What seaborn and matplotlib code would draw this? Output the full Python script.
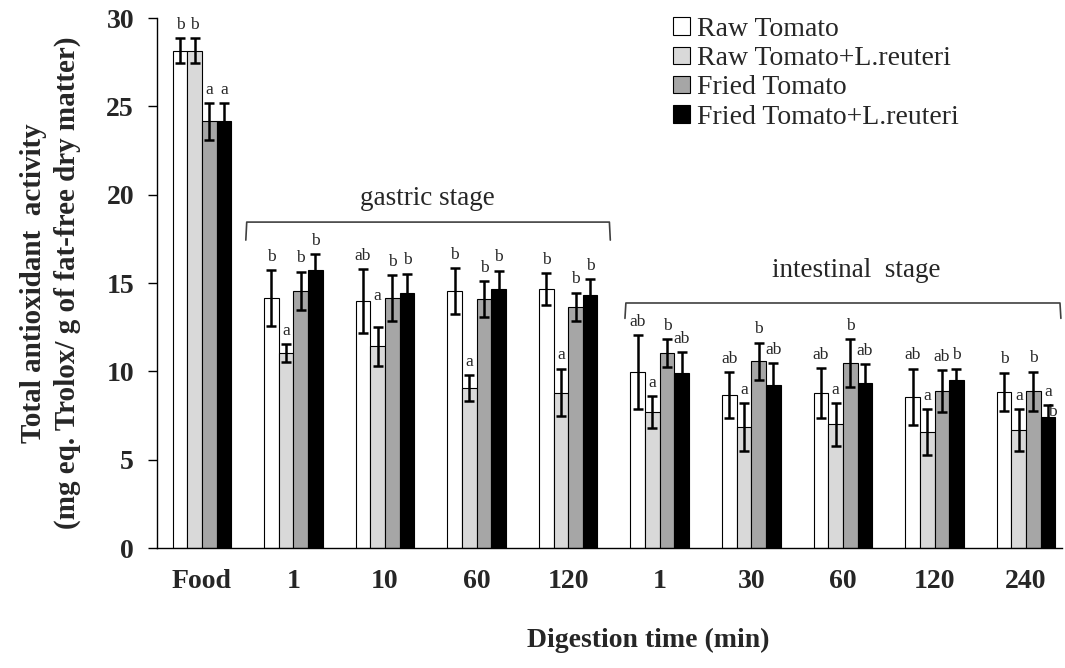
import pandas as pd
import seaborn as sns
import matplotlib.pyplot as plt

# digestion steps (unique keys, because 1/60/120 appear in both stages)
steps = ["Food", "G1", "G10", "G60", "G120", "I1", "I30", "I60", "I120", "I240"]
tick_labels = ["Food", "1", "10", "60", "120", "1", "30", "60", "120", "240"]
samples = ["Raw Tomato", "Raw Tomato+L.reuteri", "Fried Tomato", "Fried Tomato+L.reuteri"]
colors = ["#ffffff", "#d9d9d9", "#a6a6a6", "#000000"]

raw_mean = [28.15, 14.15, 13.98, 14.55, 14.65, 9.96, 8.66, 8.77, 8.55, 8.83]
raw_sd = [0.7, 1.6, 1.8, 1.3, 0.9, 2.1, 1.3, 1.4, 1.6, 1.1]
raw_lr_mean = [28.15, 11.03, 11.43, 9.05, 8.8, 7.7, 6.85, 7.0, 6.56, 6.68]
raw_lr_sd = [0.7, 0.5, 1.1, 0.75, 1.35, 0.9, 1.35, 1.2, 1.3, 1.2]
fried_mean = [24.15, 14.55, 14.15, 14.1, 13.65, 11.03, 10.58, 10.47, 8.88, 8.88]
fried_sd = [1.05, 1.1, 1.3, 1.0, 0.8, 0.8, 1.05, 1.35, 1.2, 1.1]
fried_lr_mean = [24.15, 15.73, 14.43, 14.65, 14.3, 9.9, 9.22, 9.33, 9.5, 7.4]
fried_lr_sd = [1.05, 0.9, 1.1, 1.05, 0.9, 1.2, 1.25, 1.1, 0.65, 0.7]

raw_letters = ["b", "b", "ab", "b", "b", "ab", "ab", "ab", "ab", "b"]
raw_lr_letters = ["b", "a", "a", "a", "a", "a", "a", "a", "a", "a"]
fried_letters = ["a", "b", "b", "b", "b", "b", "b", "b", "ab", "b"]
fried_lr_letters = ["a", "b", "b", "b", "b", "ab", "ab", "ab", "b", "a"]

means = [raw_mean, raw_lr_mean, fried_mean, fried_lr_mean]
sds = [raw_sd, raw_lr_sd, fried_sd, fried_lr_sd]
letters = [raw_letters, raw_lr_letters, fried_letters, fried_lr_letters]

rows = []
for s, m in zip(samples, means):
    for st, v in zip(steps, m):
        rows.append({"step": st, "sample": s, "value": v})
df = pd.DataFrame(rows)

sns.set_theme(style="white")
plt.rcParams['font.family'] = ['Liberation Serif', 'DejaVu Serif']

fig, ax = plt.subplots(figsize=(10.65, 6.68), dpi=100)
fig.subplots_adjust(left=0.1474, right=0.997, bottom=0.1796, top=0.973)

sns.barplot(data=df, x="step", y="value", hue="sample", order=steps,
            hue_order=samples, palette=colors, saturation=1, width=0.64,
            gap=0, edgecolor="black", linewidth=0.8, errorbar=None, ax=ax)

bar_conts = list(ax.containers)
for k, cont in enumerate(bar_conts):
    xs = [b.get_x() + b.get_width() / 2 for b in cont]
    ax.errorbar(xs, means[k], yerr=sds[k], fmt="none", ecolor="black",
                elinewidth=1.8, capsize=3.5, capthick=1.8, zorder=5)
    for i, x in enumerate(xs):
        y = means[k][i] + sds[k][i] + 0.75
        if k == 1 and steps[i] == "G10":
            y += 1.0
        ax.text(x, y, letters[k][i], ha="center", va="center", fontsize=12.5)
    if k == 3:
        # extra letter squeezed onto the last black bar
        x = xs[-1]
        ax.text(x + 0.045, means[k][-1] + 0.3, "b", ha="center", va="center",
                fontsize=12.5)

# stage brackets
gy0, gy1 = 17.43, 18.45
ax.plot([0.48, 0.49, 4.45, 4.46], [gy0, gy1, gy1, gy0], color="#404040", lw=1.2)
ax.text(2.46, 19.8, "gastric stage", ha="center", va="center", fontsize=19.5)
iy0, iy1 = 13.0, 13.87
ax.plot([4.62, 4.63, 9.37, 9.38], [iy0, iy1, iy1, iy0], color="#404040", lw=1.2)
ax.text(7.15, 15.7, "intestinal  stage", ha="center", va="center", fontsize=19.5)

ax.set_xlim(-0.49, 9.39)
ax.set_ylim(0, 30)
ax.set_yticks([0, 5, 10, 15, 20, 25, 30])
ax.set_xticks(range(len(steps)))
ax.set_xticklabels(tick_labels)
for lab in ax.get_xticklabels() + ax.get_yticklabels():
    lab.set_fontweight("bold")
    lab.set_fontsize(20)
ax.tick_params(axis="y", direction="out", length=6.5, width=1, color="black", pad=10, left=True)
ax.tick_params(axis="x", length=0, pad=15)

sns.despine(ax=ax)
for sp in ["left", "bottom"]:
    ax.spines[sp].set_color("black")
    ax.spines[sp].set_linewidth(1)

ax.set_xlabel("Digestion time (min)", fontsize=20, fontweight="bold")
ax.xaxis.set_label_coords(0.543, -0.15)
ax.set_ylabel("Total antioxidant  activity\n(mg eq. Trolox/ g of fat-free dry matter)",
              fontsize=21, fontweight="bold", linespacing=1.35, labelpad=18)

handles, labels = ax.get_legend_handles_labels()
ax.legend(handles, labels, loc="upper left", bbox_to_anchor=(673 / 1065, (668 - 17) / 668),
          bbox_transform=fig.transFigure, frameon=False, fontsize=20,
          handlelength=0.6, handleheight=0.6, handletextpad=0.25,
          labelspacing=0.15, borderpad=0, borderaxespad=0)

fig.savefig("out.png", dpi=100)
